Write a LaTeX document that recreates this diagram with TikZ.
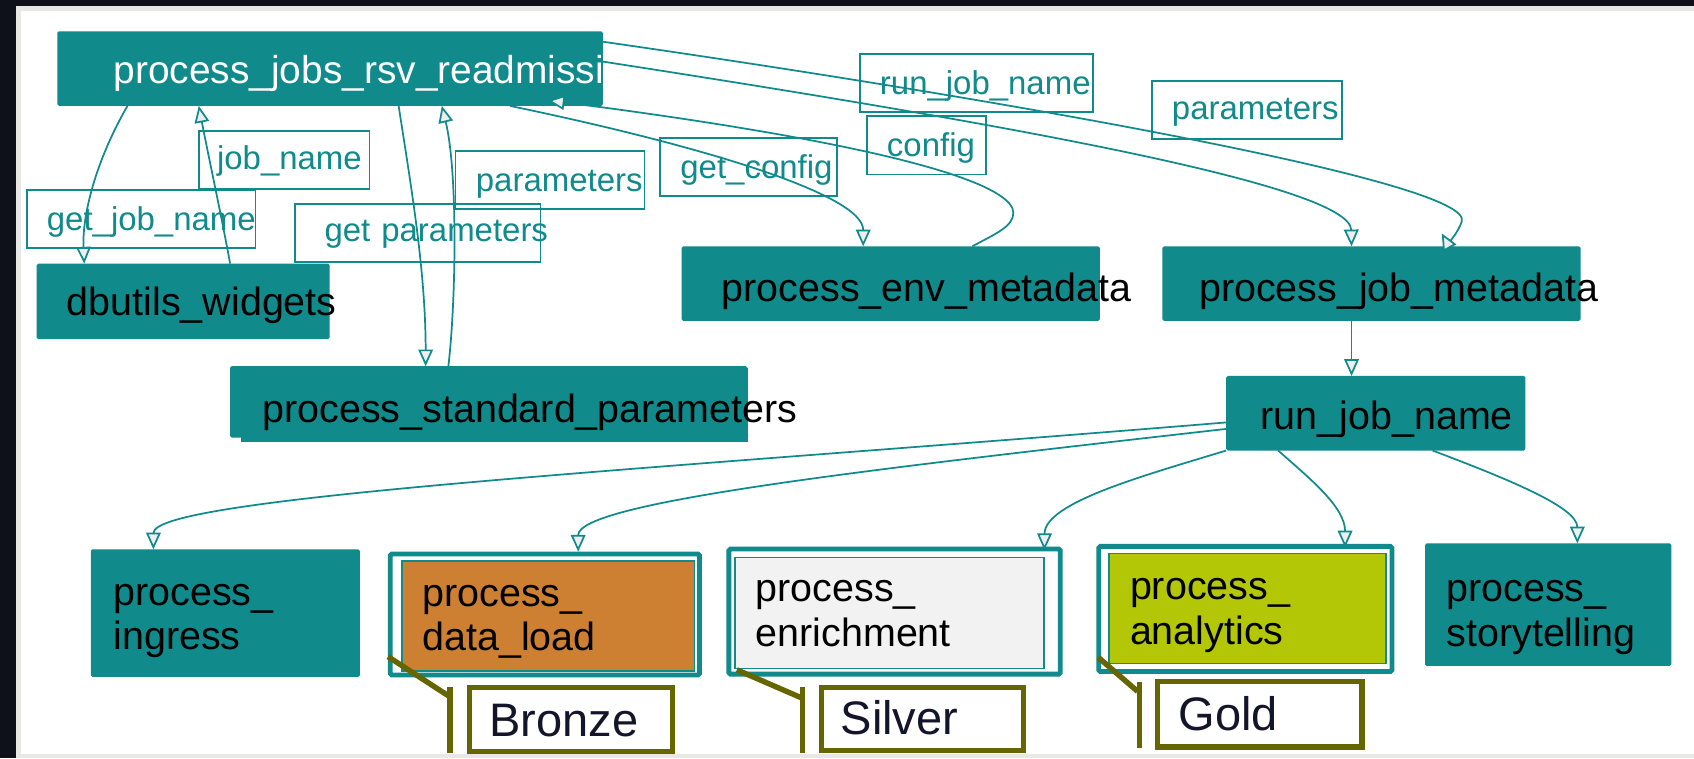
\documentclass[tikz,border=0pt]{standalone}
\usepackage{fontspec}
\setmainfont{Liberation Sans}
\usetikzlibrary{arrows.meta,calc}

\definecolor{teal0}{HTML}{108A8B}
\definecolor{pagebg}{HTML}{0F111A}
\definecolor{rim}{HTML}{E8E8E4}
\definecolor{tipfill}{HTML}{EEEEEE}
\definecolor{bronzefill}{HTML}{CD7F32}
\definecolor{silverfill}{HTML}{F2F2F2}
\definecolor{goldfill}{HTML}{B4C706}
\definecolor{tierline}{HTML}{666600}
\definecolor{tiertext}{HTML}{14142B}

\newcommand\procfont{\fontsize{36.5pt}{41pt}\selectfont}
\newcommand\edgefont{\fontsize{30.5pt}{36pt}\selectfont}
\newcommand\tierfont{\fontsize{43.5pt}{50pt}\selectfont}

\tikzset{
  boxbase/.style={anchor=north west, inner ysep=0pt, outer sep=0pt, align=left},
  proc/.style={boxbase, fill=teal0, rounded corners=1.5pt, font=\procfont, text=black},
  frame/.style={boxbase, inner sep=0pt, draw=teal0, line width=4.5pt, fill=white, rounded corners=1.5pt},
  layer/.style={boxbase, draw=teal0, line width=1.5pt, font=\procfont, text=black},
  elabel/.style={boxbase, draw=teal0, line width=1.6pt, font=\edgefont, text=teal0},
  tier/.style={boxbase, draw=tierline, line width=5pt, fill=white, font=\tierfont, text=tiertext},
  tierlink/.style={draw=tierline, line width=5pt},
  edge/.style={draw=teal0, line width=1.6pt},
  >={Triangle[length=15.5pt, width=13.5pt, fill=tipfill]},
  geo/.style n args={4}{text width=#1, inner xsep=#2, text height=#3, text depth=#4},
}

\begin{document}
\begin{tikzpicture}[x=1pt, y=-1pt]
\useasboundingbox (0,0) rectangle (1568,702);
% window frame
\fill[pagebg] (0,0) rectangle (1568,702);
\fill[rim] (14.8,5.3) rectangle (1568,702);
\fill[white] (19.4,10.2) rectangle (1568,698);

% process nodes
\node[proc, text=white, font=\fontsize{36pt}{41pt}\selectfont, geo={401pt}{52pt}{48pt}{21pt}] (top) at (53,29) {\mbox{process\_jobs\_rsv\_readmissi}};
\node[proc, geo={215pt}{28pt}{48pt}{22pt}] (dbu) at (34,244) {\mbox{dbutils\_widgets}};
\fill[teal0] (223,341) rectangle (692,409);
\node[proc, geo={419pt}{30pt}{52pt}{14pt}] (std) at (213,339) {\mbox{process\_standard\_parameters}};
\node[proc, geo={313pt}{37pt}{51pt}{18pt}] (env) at (631,228) {\mbox{process\_env\_metadata}};
\node[proc, geo={319pt}{34pt}{51pt}{18pt}] (jobmeta) at (1076,228) {\mbox{process\_job\_metadata}};
\node[proc, geo={213pt}{32pt}{50pt}{19pt}] (run) at (1135,348) {\mbox{run\_job\_name}};

% medallion layers
\node[proc, geo={207pt}{21pt}{51.5pt}{66.5pt}] (ingress) at (84,508.5) {process\_\\ingress};
\node[frame, minimum width=286.3pt, minimum height=112pt] (dl) at (361.2,512.8) {};
\node[layer, fill=bronzefill, geo={233pt}{19pt}{42.5pt}{59.3pt}] (dlin) at (372,519) {process\_\\data\_load};
\node[frame, minimum width=306.7pt, minimum height=115.8pt] (en) at (674.7,508.2) {};
\node[layer, fill=silverfill, geo={247.6pt}{19.4pt}{41.1pt}{61.6pt}] (enin) at (680.2,515.9) {process\_\\enrichment};
\node[frame, minimum width=271.4pt, minimum height=115.9pt] (an) at (1017,505.7) {};
\node[layer, fill=goldfill, geo={217.3pt}{19.5pt}{43pt}{58.8pt}] (anin) at (1026.5,512.2) {process\_\\analytics};
\node[proc, geo={188pt}{20pt}{54pt}{59.4pt}] (st) at (1319,503) {process\_\\storytelling};

% calls between the notebooks
\draw[edge,->] ($(top.south west)+(65,0)$) .. controls (88,150) and (76,200) .. ($(dbu.north west)+(44,0)$);
\draw[edge,->] ($(dbu.north west)+(179,0)$) .. controls (205,200) and (192,140) .. ($(top.south west)+(131,0)$);
\draw[edge,->] ($(top.south west)+(316,0)$) .. controls (380,170) and (394,250) .. ($(std.north west)+(181,0)$);
\draw[edge,->] ($(std.north west)+(202,0)$) .. controls (422,280) and (424,160) .. ($(top.south west)+(356,0)$);
\draw[edge,->] ($(top.south west)+(419,0)$) .. controls (650,135) and (799,180) .. ($(env.north west)+(168,0)$);
\draw[edge,->] ($(env.north west)+(269,0)$) .. controls (920,217) and (938,210) .. (938,197)
   .. controls (938,175) and (860,140) .. ($(top.south east)+(-3,1)$) -- ($(top.south west)+(454,-5)$);
\draw[edge,->] ($(top.north east)+(0,9.6)$) .. controls (950,95) and (1365,170) .. (1353,205)
   .. controls (1350,214) and (1344,221) .. (1340,226) -- ($(jobmeta.north west)+(258.5,-12)$);
\draw[edge,->] ($(top.north east)+(0,28)$) .. controls (900,110) and (1250,170) .. ($(jobmeta.north west)+(175,0)$);
\draw[edge,->] ($(jobmeta.south west)+(175,0)$) -- ($(run.north west)+(116,0)$);
\draw[edge,->] ($(run.north west)+(0,43)$) .. controls (600,435) and (142,460) .. ($(ingress.north west)+(58,0)$);
\draw[edge,->] ($(run.north west)+(0,49)$) .. controls (800,435) and (535,465) .. ($(dl.north west)+(174,-2.2)$);
\draw[edge,->] (run.south west) .. controls (1060,440) and (967,465) .. ($(en.north west)+(292,1)$);
\draw[edge,->] ($(run.south west)+(48,0)$) .. controls (1215,445) and (1245,470) .. ($(an.north west)+(228,1)$);
\draw[edge,->] ($(run.south west)+(191,0)$) .. controls (1400,445) and (1460,470) .. ($(st.north west)+(141,0)$);

% call labels
\node[elabel, geo={124pt}{17pt}{36pt}{18pt}] (l-jobname) at (183.9,121) {\mbox{job\_name}};
\node[elabel, geo={174.4pt}{18.6pt}{37pt}{16.4pt}] (l-getjobname) at (24.8,175.9) {\mbox{get\_job\_name}};
\node[elabel, geo={137pt}{19pt}{37.6pt}{16pt}] (l-params1) at (421.5,139.8) {\mbox{parameters}};
\node[elabel, geo={172.6pt}{27.4pt}{34.9pt}{18.5pt}] (l-getparams) at (273,188.8) {\mbox{get parameters}};
\node[elabel, geo={178.9pt}{18.2pt}{37.3pt}{16.4pt}] (l-runjob) at (796.3,50) {\mbox{run\_job\_name}};
\node[elabel, geo={73pt}{18.5pt}{36.7pt}{17pt}] (l-config) at (802.5,107.7) {\mbox{config}};
\node[elabel, geo={126pt}{18.6pt}{37pt}{16.4pt}] (l-getconfig) at (611.2,128) {\mbox{get\_config}};
\node[elabel, geo={138.9pt}{18.2pt}{36.3pt}{17.7pt}] (l-params2) at (1066.6,74.7) {\mbox{parameters}};

% tier call-outs
\node[tier, geo={151pt}{18.5pt}{45.3pt}{13.7pt}] (bronze) at (434.5,636.5) {Bronze};
\node[tier, geo={151.6pt}{17.7pt}{43.8pt}{14.2pt}] (silver) at (760.5,636.5) {Silver};
\node[tier, geo={150pt}{19.5pt}{44.7pt}{15.8pt}] (gold) at (1071.5,631) {Gold};

\draw[tierlink] ($(dl.south west)+(-2,-17)$) -- ($(bronze.north west)+(-18,8.5)$);
\draw[tierlink] ($(bronze.north west)+(-18,-0.5)$) -- ($(bronze.south west)+(-18,1.5)$);
\draw[tierlink] ($(en.south west)+(7.3,-4)$) -- ($(silver.north west)+(-18.5,9.5)$);
\draw[tierlink] ($(silver.north west)+(-17.5,-0.5)$) -- ($(silver.south west)+(-17.5,2.5)$);
\draw[tierlink] ($(an.south west)+(-0.5,-13.2)$) -- ($(gold.north west)+(-18.5,9)$);
\draw[tierlink] ($(gold.north west)+(-17,0)$) -- ($(gold.south west)+(-17,1)$);
\end{tikzpicture}
\end{document}
